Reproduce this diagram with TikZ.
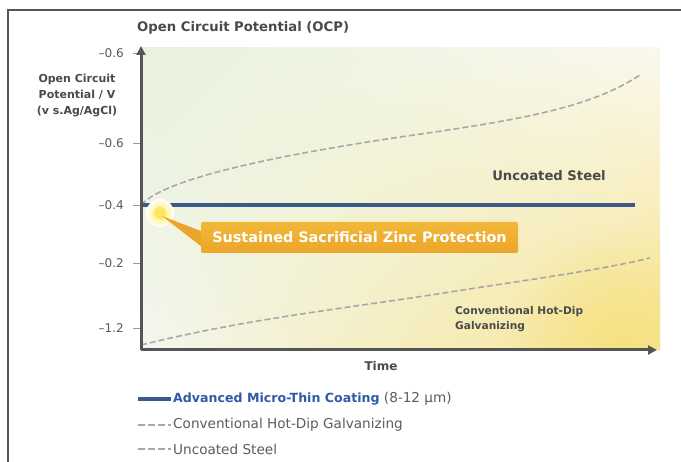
\documentclass[tikz,border=0pt]{standalone}
\usepackage{fontspec}
\setmainfont{DejaVu Sans}
\usetikzlibrary{arrows.meta,shadings,fadings}
\tikzfading[name=softglow,inner color=transparent!0,outer color=transparent!100]
\definecolor{axisgray}{HTML}{555555}
\definecolor{txtgray}{HTML}{4A4A4A}
\definecolor{tickgray}{HTML}{5A5A5A}
\definecolor{coatblue}{HTML}{3A5A8C}
\definecolor{legblue}{HTML}{2F5AA8}
\definecolor{dashgray}{HTML}{A8A8A8}
\definecolor{calloutA}{HTML}{F2B83A}
\definecolor{calloutB}{HTML}{EBA52A}
\definecolor{mint}{HTML}{E8F2DC}
\definecolor{paleY}{HTML}{FAF8EE}
\definecolor{deepY}{HTML}{F6E07C}
\definecolor{lowL}{HTML}{F3F6EE}
\tikzset{
  axisline/.style={draw=axisgray,line width=3pt,-{Triangle[length=9pt,width=9pt]}},
  ticklbl/.style={text=tickgray,font=\fontsize{12}{14}\selectfont,anchor=east,inner sep=0pt},
  tickmark/.style={draw=axisgray!60,line width=0.8pt},
  curvedash/.style={draw=dashgray,line width=1.6pt,dash pattern=on 6pt off 3pt},
  coatline/.style={draw=coatblue,line width=4pt},
  boldlbl/.style={text=txtgray,font=\bfseries\fontsize{12}{14}\selectfont,inner sep=0pt},
  leglbl/.style={text=txtgray!90,font=\fontsize{13.6}{16}\selectfont,anchor=west,inner sep=0pt},
}
\begin{document}
\begin{tikzpicture}[x=1pt,y=-1pt]
\useasboundingbox (0,0) rectangle (681,462);
\fill[white] (0,0) rectangle (681,462);
% frame
\draw[axisgray,line width=1.5pt] (8,462) -- (8,10) -- (681,10);
% background gradient
\shade[upper left=mint,upper right=paleY,lower left=lowL,lower right=deepY!85] (141,48) rectangle (660,350);
\begin{scope}
\clip (141,48) rectangle (660,350);
\fill[deepY,path fading=softglow,opacity=0.8] (620,340) circle (110);
\end{scope}
% title
\node[boldlbl,anchor=west,font=\bfseries\fontsize{13.2}{16}\selectfont] (title) at (137,28) {Open Circuit Potential (OCP)};
% axis label
\node[boldlbl,align=center,font=\bfseries\fontsize{11}{16}\selectfont] (ylab) at (77,96) {Open Circuit\\Potential / V\\(v s.Ag/AgCl)};
% axes
\coordinate (O) at (141,350);
\coordinate (ytop) at (141,46);
\coordinate (xend) at (657,350);
% ticks
\foreach \yy/\lab/\nm in {53/{–0.6}/ta,143/{–0.6}/tb,205/{–0.4}/tc,263/{–0.2}/td,328/{–1.2}/te}{
  \draw[tickmark] (133,\yy) -- (141,\yy);
  \node[ticklbl] (\nm) at (124,\yy) {\lab};
}
% curves
\draw[curvedash] (141,205) .. controls (165,178) and (280,155) .. (400,137) .. controls (520,120) and (590,108) .. (640,75);
\draw[curvedash] (141,345) .. controls (250,318) and (350,308) .. (450,292) .. controls (540,278) and (600,270) .. (650,258);
% coating line
\draw[coatline] (141,205) -- (635,205);
% glow
\shade[inner color=yellow!80!orange!70,outer color=yellow!0] (160,213) circle (14);
\fill[yellow!75!orange!60] (160,213) circle (6);
% axes on top
\draw[axisline] (O) -- (ytop);
\draw[axisline] (O) -- (xend);
% callout
\node[inner sep=0pt,minimum width=317pt,minimum height=31pt,rounded corners=2pt,
      top color=calloutA,bottom color=calloutB,text=white,
      font=\bfseries\fontsize{14.4}{16}\selectfont] (call) at (359.5,237.5) {Sustained Sacrificial Zinc Protection};
\fill[calloutB] (162,216) -- (call.west |- 0,231) -- (call.west |- 0,246) -- cycle;
% labels
\node[boldlbl,font=\bfseries\fontsize{13.2}{14}\selectfont] (unc) at (549,176) {Uncoated Steel};
\node[boldlbl,anchor=west,align=left,font=\bfseries\fontsize{10.6}{15}\selectfont] (hdg) at (455,319) {Conventional Hot-Dip\\Galvanizing};
\node[boldlbl] (time) at (381,366) {Time};
% legend
\coordinate (l1a) at (138,399); \coordinate (l1b) at (171,399);
\coordinate (l2a) at (138,425); \coordinate (l2b) at (171,425);
\coordinate (l3a) at (138,449); \coordinate (l3b) at (171,449);
\draw[coatline] (l1a) -- (l1b);
\draw[curvedash,dash pattern=on 7pt off 3pt] (l2a) -- (l2b);
\draw[curvedash,dash pattern=on 7pt off 3pt] (l3a) -- (l3b);
\node[leglbl] (leg1) at (173,399) {\textcolor{legblue}{\bfseries\fontsize{12.6}{16}\selectfont Advanced Micro-Thin Coating} (8-12 µm)};
\node[leglbl] (leg2) at (173,425) {Conventional Hot-Dip Galvanizing};
\node[leglbl] (leg3) at (173,449) {Uncoated Steel};
\end{tikzpicture}
\end{document}
